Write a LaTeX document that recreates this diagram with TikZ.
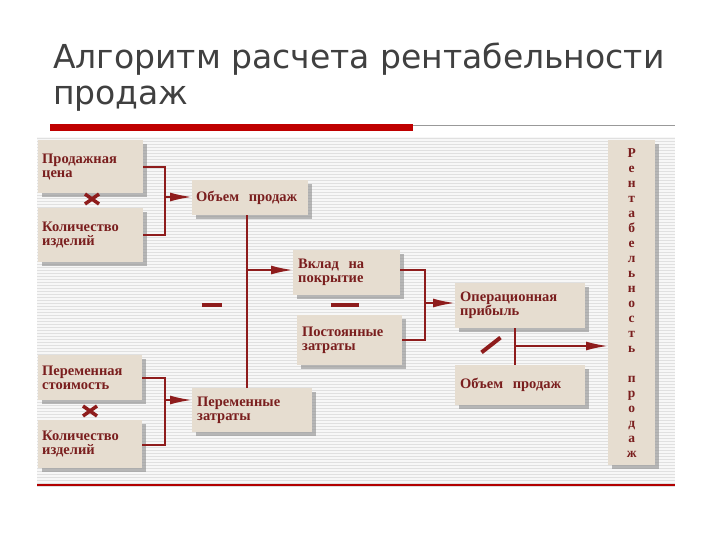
\documentclass[tikz,border=0pt]{standalone}
\usepackage{fontspec}
\setmainfont{Liberation Serif}
\newfontfamily\titlefont{DejaVu Sans}
\usetikzlibrary{arrows.meta,shadows}
\definecolor{boxfill}{HTML}{E6DDD0}
\definecolor{ink}{HTML}{7A1E1E}
\definecolor{ln}{HTML}{8E1C1C}
\tikzset{
 bx/.style={draw=none,fill=boxfill,drop shadow={shadow xshift=4pt,shadow yshift=-4pt,fill=black!45,opacity=.6},
   text=ink,font=\bfseries\fontsize{14.5}{14}\selectfont,align=left,anchor=north west,inner sep=0pt},
 cn/.style={draw=ln,line width=2pt},
 ar/.style={cn,-{Latex[length=22pt,width=9pt]}},
 crs/.style={draw=ln,line width=3.5pt}
}
\begin{document}
\begin{tikzpicture}[x=1pt,y=-1pt]
\useasboundingbox (0,0) rectangle (720,540);
\fill[white] (0,0) rectangle (720,540);
\node[anchor=west,text=black!75,font=\titlefont\fontsize{33}{33}\selectfont,inner sep=0pt] (t1) at (53,59) {Алгоритм расчета рентабельности};
\node[anchor=west,text=black!75,font=\titlefont\fontsize{33}{33}\selectfont,inner sep=0pt] (t2) at (53,99) {продаж};
\fill[red!75!black] (50,124) rectangle (413,131);
\fill[black!40] (413,125) rectangle (675,126);
% background
\fill[black!3] (37,137) rectangle (675,487);
\foreach \y in {138,141,...,486} \draw[black!12,line width=0.5pt] (37,\y) -- (675,\y);
\fill[red!70!black] (37,484) rectangle (675,486);
% boxes
\node[bx,minimum width=105,minimum height=53,text width=97,inner xsep=4pt] (pc) at (38,140) {Продажная\\цена\\[16pt]};
\node[bx,minimum width=105,minimum height=54,text width=97,inner xsep=4pt] (k1) at (38,208) {Количество\\изделий\\[10pt]};
\node[bx,minimum width=116,minimum height=35,text width=108,inner xsep=4pt] (op1) at (192,180) {Объем\ \ продаж};
\node[bx,minimum width=105,minimum height=45,text width=97,inner xsep=5pt] (vp) at (293,250) {Вклад\ \ на\\покрытие\\[6pt]};
\node[bx,minimum width=103,minimum height=50,text width=95,inner xsep=5pt] (pz) at (297,315) {Постоянные\\затраты\\[2pt]};
\node[bx,minimum width=128,minimum height=45,text width=120,inner xsep=5pt] (opr) at (455,283) {Операционная\\прибыль\\[6pt]};
\node[bx,minimum width=128,minimum height=40,text width=120,inner xsep=5pt] (op2) at (455,365) {Объем\ \ продаж\\[8pt]};
\node[bx,minimum width=102,minimum height=45,text width=96,inner xsep=4pt] (ps) at (38,355) {Переменная\\стоимость\\[6pt]};
\node[bx,minimum width=102,minimum height=48,text width=96,inner xsep=4pt] (k2) at (38,420) {Количество\\изделий\\[8pt]};
\node[bx,minimum width=118,minimum height=44,text width=110,inner xsep=5pt] (pz2) at (192,388) {Переменные\\затраты\\[8pt]};
\node[bx,minimum width=47,minimum height=325,text width=47,align=center,inner xsep=0pt,
  font=\bfseries\fontsize{13.5}{15}\selectfont] (rp) at (608,140) {Р\\е\\н\\т\\а\\б\\е\\л\\ь\\н\\о\\с\\т\\ь\\[15pt]п\\р\\о\\д\\а\\ж};
% symbols
\coordinate (x1) at (92,199);
\draw[crs] ([shift={(-7,-5)}]x1) -- ([shift={(7,5)}]x1) ([shift={(-7,5)}]x1) -- ([shift={(7,-5)}]x1);
\coordinate (x2) at (90,411);
\draw[crs] ([shift={(-7,-5)}]x2) -- ([shift={(7,5)}]x2) ([shift={(-7,5)}]x2) -- ([shift={(7,-5)}]x2);
\node[fill=ln,minimum width=20,minimum height=4,inner sep=0pt] (m1) at (212,305) {};
\node[fill=ln,minimum width=28,minimum height=4,inner sep=0pt] (m2) at (345,305) {};
\node[fill=ln,minimum width=24,minimum height=4,inner sep=0pt,rotate=38] (sl) at (491,345) {};
% connectors
\coordinate (b1) at (165,197);
\draw[cn] (pc.east|-0,167) -| (b1) |- (k1.east|-0,235);
\draw[ar] (b1) -- (op1.west|-b1);
\coordinate (v1) at (247,270);
\draw[cn] (op1.south-|v1) -- (pz2.north-|v1);
\draw[ar] (v1) -- (vp.west|-v1);
\coordinate (b2) at (425,303);
\draw[cn] (vp.east|-0,270) -| (b2) |- (pz.east|-0,340);
\draw[ar] (b2) -- (opr.west|-b2);
\coordinate (b3) at (165,400);
\draw[cn] (ps.east|-0,378) -| (b3) |- (k2.east|-0,445);
\draw[ar] (b3) -- (pz2.west|-b3);
\coordinate (v2) at (515,346);
\draw[cn] (opr.south-|v2) -- (op2.north-|v2);
\draw[ar] (v2) -- (rp.west|-v2);
\end{tikzpicture}
\end{document}
